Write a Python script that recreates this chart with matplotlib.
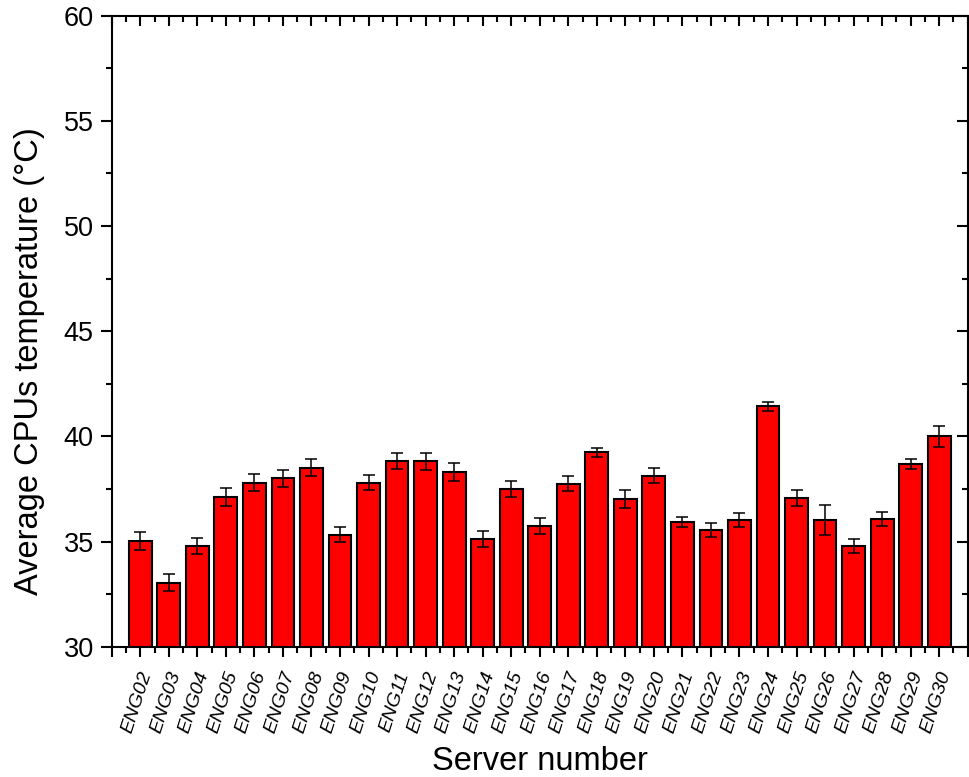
import numpy as np
import matplotlib
matplotlib.use("Agg")
import matplotlib.pyplot as plt
import matplotlib.transforms as mtransforms
from matplotlib.ticker import MultipleLocator, FixedLocator

# data
servers = ["ENG%02d" % i for i in range(2, 31)]
avg_temp = [35.02, 33.05, 34.77, 37.10, 37.80, 38.00, 38.50, 35.33, 37.80, 38.82,
            38.82, 38.32, 35.12, 37.50, 35.72, 37.75, 39.24, 37.02, 38.13, 35.93,
            35.53, 36.02, 41.42, 37.05, 36.02, 34.79, 36.07, 38.67, 40.00]
temp_err = [0.43, 0.40, 0.38, 0.43, 0.42, 0.42, 0.40, 0.35, 0.36, 0.39,
            0.40, 0.42, 0.40, 0.37, 0.38, 0.37, 0.20, 0.42, 0.36, 0.23,
            0.33, 0.34, 0.23, 0.38, 0.70, 0.35, 0.32, 0.23, 0.50]

plt.rcParams["font.family"] = ["Liberation Sans", "DejaVu Sans"]

fig = plt.figure(figsize=(9.69, 7.77), dpi=100)
ax = fig.add_axes([0.1153, 0.1677, 0.8834, 0.8121])

x = np.arange(len(servers))
ax.bar(x, avg_temp, width=0.8, color="#ff0000", edgecolor="black", linewidth=1.5,
       yerr=temp_err, error_kw=dict(ecolor="black", elinewidth=1.1, capsize=4.3, capthick=1.1),
       zorder=2)

ax.set_xlim(-1, 29)
ax.set_ylim(30, 60)

# ticks
ax.yaxis.set_major_locator(MultipleLocator(5))
ax.yaxis.set_minor_locator(MultipleLocator(2.5))
ax.xaxis.set_major_locator(FixedLocator(np.arange(-1, 30)))
ax.xaxis.set_minor_locator(FixedLocator(np.arange(-0.5, 29, 1.0)))
ax.set_xticklabels([""] + servers + [""], rotation=72, ha="right", va="center",
                   rotation_mode="anchor", fontstyle="italic", fontsize=14)

ax.tick_params(axis="y", which="major", direction="out", length=8, width=1.5,
               labelsize=19.5, pad=5, left=True, right=True)
ax.tick_params(axis="y", which="minor", direction="out", length=4, width=1.5,
               left=True, right=True)
ax.tick_params(axis="x", which="major", direction="out", length=7, width=1.5,
               top=True, pad=4)
ax.tick_params(axis="x", which="minor", direction="out", length=4, width=1.5, top=True)

# shift the rotated labels a bit, like the reference (after tick_params, which resets transforms)
offset = mtransforms.ScaledTranslation(5 / 72, -7 / 72, fig.dpi_scale_trans)
for lbl in ax.get_xticklabels():
    lbl.set_transform(lbl.get_transform() + offset)

# top and right ticks point inward
for t in ax.xaxis.get_major_ticks() + ax.xaxis.get_minor_ticks():
    t.tick2line.set_marker(matplotlib.markers.TICKDOWN)
for t in ax.yaxis.get_major_ticks() + ax.yaxis.get_minor_ticks():
    t.tick2line.set_marker(matplotlib.markers.TICKLEFT)

for s in ax.spines.values():
    s.set_linewidth(1.5)

ax.set_xlabel("Server number", fontsize=23.5)
ax.set_ylabel("Average CPUs temperature (°C)", fontsize=23.5)
ax.xaxis.set_label_coords(0.5, -0.158)
ax.yaxis.set_label_coords(-0.078, 0.453)

fig.savefig("out.png", dpi=100)
